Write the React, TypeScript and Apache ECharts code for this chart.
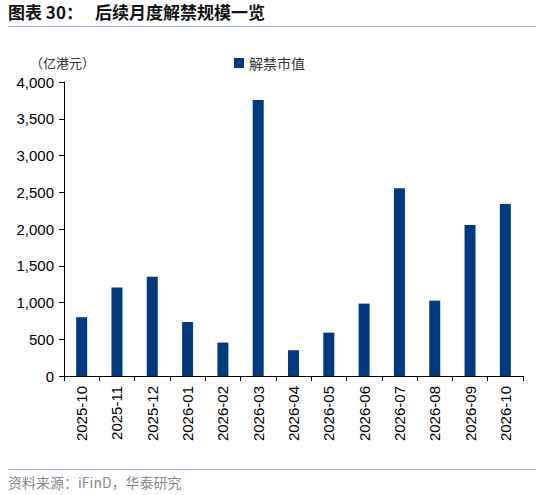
import { useEffect, useRef } from 'react';
import * as echarts from 'echarts';

const months = [
  '2025-10', '2025-11', '2025-12', '2026-01', '2026-02', '2026-03', '2026-04',
  '2026-05', '2026-06', '2026-07', '2026-08', '2026-09', '2026-10',
];
// 解禁市值 (亿港元)
const unlockValues = [800, 1205, 1350, 735, 455, 3755, 350, 590, 985, 2555, 1025, 2055, 2340];

const seriesName = '解禁市值';
const barColor = '#003A7F';
const cjk = '"Noto Sans CJK SC", sans-serif';
const latin = '"Liberation Sans", Arial, sans-serif';

const App: React.FC = () => {
  const divRef = useRef<HTMLDivElement | null>(null);

  useEffect(() => {
    if (!divRef.current) return;
    const chart = echarts.init(divRef.current, undefined, { renderer: 'svg' });

    chart.setOption({
      animation: false,
      backgroundColor: '#fff',
      grid: { left: 64, right: 27, top: 82, bottom: 119 },
      legend: {
        data: [seriesName],
        left: 234,
        top: 56,
        padding: 0,
        itemWidth: 10,
        itemHeight: 10,
        itemGap: 5,
        icon: 'rect',
        textStyle: { fontFamily: cjk, fontSize: 14, color: '#333' },
      },
      graphic: [
        {
          type: 'text',
          left: 8,
          top: 3,
          style: { text: '图表 30：', font: `bold 17px ${cjk}`, fill: '#111' },
        },
        {
          type: 'text',
          left: 95,
          top: 3,
          style: { text: '后续月度解禁规模一览', font: `bold 17px ${cjk}`, fill: '#111' },
        },
        {
          type: 'line',
          shape: { x1: 8, y1: 26.5, x2: 536, y2: 26.5 },
          style: { stroke: '#9DB3D3', lineWidth: 1.2 },
        },
        {
          type: 'text',
          left: 30,
          top: 56,
          style: { text: '（亿港元）', font: `13px ${cjk}`, fill: '#333' },
        },
        {
          type: 'line',
          shape: { x1: 8, y1: 469.5, x2: 536, y2: 469.5 },
          style: { stroke: '#9DB3D3', lineWidth: 1.2 },
        },
        {
          type: 'text',
          left: 8,
          top: 475,
          style: { text: '资料来源：iFinD，华泰研究', font: `14px ${cjk}`, fill: '#888' },
        },
      ],
      xAxis: {
        type: 'category',
        data: months,
        axisLine: { lineStyle: { color: '#000', width: 1 } },
        axisTick: { show: true, length: 5, lineStyle: { color: '#000' } },
        axisLabel: {
          rotate: 90,
          interval: 0,
          margin: 10,
          color: '#000',
          fontFamily: latin,
          fontSize: 15,
        },
      },
      yAxis: {
        type: 'value',
        min: 0,
        max: 4000,
        interval: 500,
        splitLine: { show: false },
        axisLine: { show: true, lineStyle: { color: '#000', width: 1 } },
        axisTick: { show: true, length: 5, lineStyle: { color: '#000' } },
        axisLabel: {
          margin: 10,
          color: '#000',
          fontFamily: latin,
          fontSize: 15,
          formatter: (v: number) => v.toLocaleString('en-US'),
        },
      },
      series: [
        {
          name: seriesName,
          type: 'bar',
          data: unlockValues,
          barWidth: 11,
          itemStyle: { color: barColor },
        },
      ],
    });

    return () => chart.dispose();
  }, []);

  return (
    <div
      ref={divRef}
      style={{ position: 'absolute', left: 0, top: 0, width: 550, height: 495 }}
    />
  );
};

export default App;
